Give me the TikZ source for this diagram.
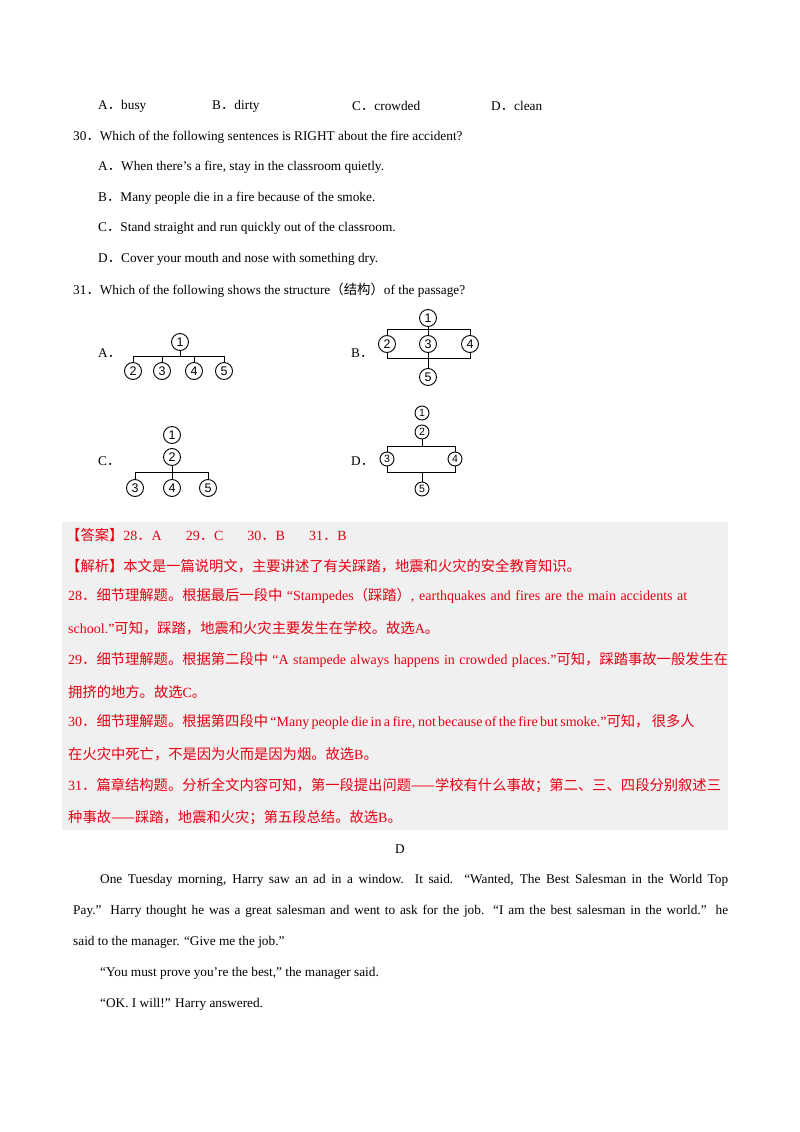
\documentclass[tikz,border=0pt]{standalone}
\usepackage{fontspec}
\setmainfont{Liberation Serif}
\newfontfamily\cjk{Noto Sans CJK SC}
\newfontfamily\digf{Liberation Sans}
\newcommand{\cj}[1]{{\cjk\fontsize{13.4}{15}\selectfont #1}}
\newcommand{\cjr}[1]{{\cjk\fontsize{14.3}{15}\selectfont #1}}
\newcommand{\jus}[2]{\makebox[#1][s]{#2}}
\definecolor{ansred}{HTML}{E60012}
\tikzset{
  t/.style={anchor=west,inner sep=0pt,font=\fontsize{13.3}{15}\selectfont},
  r/.style={t,text=ansred,font=\fontsize{14}{15}\selectfont},
  cir/.style={circle,draw,line width=0.9pt,minimum size=17pt,inner sep=0pt,font=\digf\fontsize{12.5}{12}\selectfont},
  cirs/.style={cir,minimum size=14pt,font=\digf\fontsize{10.5}{10}\selectfont},
  ln/.style={line width=0.9pt}
}
\begin{document}
\begin{tikzpicture}[x=1pt,y=-1pt]
\useasboundingbox[fill=white] (0,0) rectangle (800,1132);
\node[t] (oa) at (98,106) {A\cj{．}busy};
\node[t] (ob) at (212,106) {B\cj{．}dirty};
\node[t] (oc) at (352,106) {C\cj{．}crowded};
\node[t] (od) at (491,106) {D\cj{．}clean};
\node[t] (q30) at (73,137) {30\cj{．}Which of the following sentences is RIGHT about the fire accident?};
\node[t] (a30) at (98,167) {A\cj{．}When there’s a fire, stay in the classroom quietly.};
\node[t] (b30) at (98,198) {B\cj{．}Many people die in a fire because of the smoke.};
\node[t] (c30) at (98,228) {C\cj{．}Stand straight and run quickly out of the classroom.};
\node[t] (d30) at (98,259) {D\cj{．}Cover your mouth and nose with something dry.};
\node[t] (q31) at (73,290) {31\cj{．}Which of the following shows the structure\cj{（结构）}of the passage?};
\node[t] (la) at (98,353) {A\cj{．}};
\node[t] (lb) at (351,353) {B\cj{．}};
\node[t] (lc) at (98,461) {C\cj{．}};
\node[t] (ld) at (351,461) {D\cj{．}};
% A
\node[cir] (a1) at (180,342) {1};
\node[cir] (a2) at (133,371) {2};
\node[cir] (a3) at (162,371) {3};
\node[cir] (a4) at (194,371) {4};
\node[cir] (a5) at (224,371) {5};
\draw[ln] (a1.south) -- (180,356);
\draw[ln] (a2.north) |- (224,356) -- (a5.north);
\draw[ln] (a3.north) -- (162,356);
\draw[ln] (a4.north) -- (194,356);
% B
\node[cir] (b1) at (428,318) {1};
\node[cir] (b2) at (387,344) {2};
\node[cir] (b3) at (428,344) {3};
\node[cir] (b4) at (470,344) {4};
\node[cir] (b5) at (428,377) {5};
\draw[ln] (b1) -- (b3);
\draw[ln] (b3) -- (b5);
\draw[ln] (b2.north) |- (470,329) -- (b4.north);
\draw[ln] (b2.south) |- (470,358) -- (b4.south);
% C
\node[cir] (c1) at (172,435) {1};
\node[cir] (c2) at (172,457) {2};
\node[cir] (c3) at (135,488) {3};
\node[cir] (c4) at (172,488) {4};
\node[cir] (c5) at (208,488) {5};
\draw[ln] (c2) -- (c4);
\draw[ln] (c3.north) |- (208,472) -- (c5.north);
% D
\node[cirs] (d1) at (422,413) {1};
\node[cirs] (d2) at (422,432) {2};
\node[cirs] (d3) at (387,459) {3};
\node[cirs] (d4) at (455,459) {4};
\node[cirs] (d5) at (422,489) {5};
\draw[ln] (d2.south) -- (422,446);
\draw[ln] (d3.north) |- (455,446) -- (d4.north);
\draw[ln] (d3.south) |- (455,472) -- (d4.south);
\draw[ln] (422,472) -- (d5.north);
% answer box
\fill[black!6] (62,522) rectangle (728,830);
\node[r] (r1) at (66,535) {\cjr{【答案】}28\cjr{．}A\hspace{24pt}29\cjr{．}C\hspace{24pt}30\cjr{．}B\hspace{24pt}31\cjr{．}B};
\node[r] (r2) at (66,566) {\cjr{【解析】本文是一篇说明文，主要讲述了有关踩踏，地震和火灾的安全教育知识。}};
\node[r] (r3) at (68,596) {\jus{619pt}{28\cjr{．细节理解题。根据最后一段中}~“Stampedes\cjr{（踩踏）}, earthquakes and fires are the main accidents at}};
\node[r] (r4) at (68,628) {school.”\cjr{可知，踩踏，地震和火灾主要发生在学校。故选}A\cjr{。}};
\node[r] (r5) at (68,660) {\jus{660pt}{29\cjr{．细节理解题。根据第二段中}~“A stampede always happens in crowded places.”\cjr{可知，踩踏事故一般发生在}}};
\node[r] (r6) at (68,692) {\cjr{拥挤的地方。故选}C\cjr{。}};
\node[r] (r7) at (68,722) {\jus{624pt}{30\cjr{．细节理解题。根据第四段中}~“Many people die in a fire, not because of the fire but smoke.”\cjr{可知，}~\cjr{很多人}}};
\node[r] (r8) at (68,754) {\cjr{在火灾中死亡，不是因为火而是因为烟。故选}B\cjr{。}};
\node[r] (r9) at (68,786) {31\cjr{．篇章结构题。分析全文内容可知，第一段提出问题——学校有什么事故；第二、三、四段分别叙述三}};
\node[r] (r10) at (68,818) {\cjr{种事故——踩踏，地震和火灾；第五段总结。故选}B\cjr{。}};
% passage
\node[t,anchor=center] (dd) at (400,849) {D};
\node[t] (p1) at (100,880) {\jus{628pt}{One Tuesday morning, Harry saw an ad in a window. It said. “Wanted, The Best Salesman in the World Top}};
\node[t] (p2) at (73,911) {\jus{655pt}{Pay.” Harry thought he was a great salesman and went to ask for the job. “I am the best salesman in the world.” he}};
\node[t] (p3) at (73,942) {said to the manager. “Give me the job.”};
\node[t] (p4) at (100,973) {“You must prove you’re the best,” the manager said.};
\node[t] (p5) at (100,1004) {“OK. I will!” Harry answered.};
\end{tikzpicture}
\end{document}
